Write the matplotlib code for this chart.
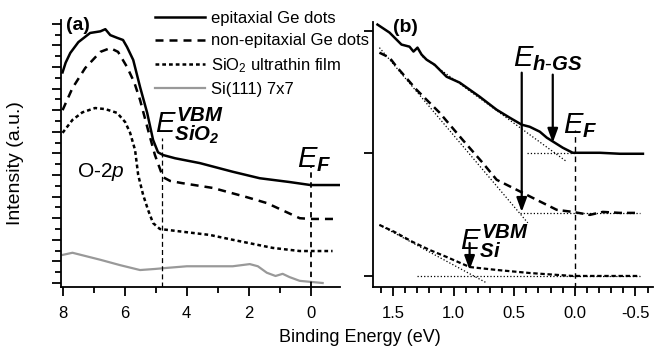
import matplotlib.pyplot as plt
from matplotlib.ticker import MultipleLocator, NullFormatter

plt.rcParams['font.family'] = 'Liberation Sans'
plt.rcParams['mathtext.fontset'] = 'custom'
plt.rcParams['mathtext.rm'] = 'Liberation Sans'
plt.rcParams['mathtext.it'] = 'Liberation Sans:italic'
plt.rcParams['mathtext.bf'] = 'Liberation Sans:bold'
plt.rcParams['mathtext.bfit'] = 'Liberation Sans:italic:bold'

# ---- panel (a): wide valence band spectra ----
epi_a_ev = [8.0, 7.9, 7.75, 7.49, 7.11, 6.78, 6.62, 6.46, 6.24, 6.05, 5.92, 5.72, 5.50, 5.27,
            5.08, 4.92, 4.76, 4.37, 3.57, 2.51, 1.64, 0.68, 0.0, -0.93]
epi_a_int = [19.5, 20.4, 21.3, 22.3, 23.15, 23.3, 23.5, 22.95, 22.7, 22.5, 21.85, 20.65, 18.15,
             15.75, 13.25, 12.1, 11.85, 11.55, 11.1, 10.3, 9.7, 9.35, 9.07, 9.07]

non_a_ev = [8.0, 7.68, 7.27, 6.78, 6.46, 6.21, 5.92, 5.69, 5.50, 5.24, 5.02, 4.76, 4.53,
            4.15, 3.15, 2.06, 1.41, 0.35, 0.0, -0.84]
non_a_int = [16.0, 18.05, 19.9, 21.4, 21.75, 21.4, 20.0, 18.6, 16.95, 14.15, 11.85, 9.8, 9.45,
             9.25, 8.8, 7.95, 7.4, 6.0, 5.93, 5.93]

sio2_a_ev = [8.0, 7.68, 7.36, 6.95, 6.62, 6.24, 5.98, 5.82, 5.66, 5.56, 5.40, 5.24, 5.08,
             4.86, 3.99, 3.25, 2.51, 1.22, 0.35, -0.71]
sio2_a_int = [13.9, 15.1, 15.8, 16.2, 16.1, 15.75, 14.9, 13.9, 12.3, 10.0, 8.15, 6.75, 5.55,
              5.0, 4.7, 4.45, 4.0, 3.25, 2.96, 2.96]

si_a_ev = [8.0, 7.68, 6.78, 6.14, 5.50, 5.02, 4.63, 3.99, 2.51, 1.96, 1.70, 1.41, 1.13,
           0.90, 0.68, 0.35, -0.39]
si_a_int = [2.6, 2.8, 2.15, 1.65, 1.2, 1.3, 1.4, 1.55, 1.55, 1.75, 1.55, 0.95, 0.65,
            0.85, 0.55, 0.2, 0.0]

vbm_sio2_ev = 4.8
vbm_sio2_top = 13.4
ef_a_top = 10.7

# ---- panel (b): near Fermi level ----
epi_b_ev = [1.628, 1.529, 1.430, 1.364, 1.331, 1.298, 1.264, 1.223, 1.157, 1.058, 0.950,
            0.785, 0.645, 0.537, 0.438, 0.372, 0.289, 0.231, 0.165, 0.099, 0.017, -0.207,
            -0.372, -0.562]
epi_b_int = [2.049, 1.984, 1.886, 1.869, 1.829, 1.861, 1.804, 1.763, 1.722, 1.624, 1.576,
             1.461, 1.355, 1.290, 1.233, 1.216, 1.176, 1.127, 1.086, 1.045, 1.004, 1.004,
             0.996, 0.996]

non_b_ev = [1.612, 1.529, 1.471, 1.306, 1.116, 0.926, 0.760, 0.645, 0.479, 0.314, 0.149,
            0.017, -0.124, -0.231, -0.372, -0.537]
non_b_int = [1.820, 1.780, 1.706, 1.518, 1.331, 1.110, 0.922, 0.784, 0.702, 0.620, 0.539,
             0.522, 0.498, 0.522, 0.514, 0.514]

si_b_ev = [1.612, 1.488, 1.339, 1.198, 1.058, 0.868, 0.645, 0.372, 0.017, -0.207, -0.537]
si_b_int = [0.416, 0.359, 0.278, 0.212, 0.155, 0.073, 0.049, 0.024, 0.0, 0.0, 0.0]

# linear extrapolations (edge fits) and baselines
fit_epi_ev, fit_epi_int = [1.256, 0.066], [1.788, 0.931]
base_epi_ev, base_epi_int = [0.397, 0.0], [1.0, 1.0]
fit_non_ev, fit_non_int = [1.612, 0.388], [1.861, 0.433]
base_non_ev, base_non_int = [0.455, -0.537], [0.514, 0.514]
fit_si_ev, fit_si_int = [1.612, 0.727], [0.416, -0.057]
base_si_ev, base_si_int = [1.298, -0.537], [0.0, 0.0]

hgs_ev, hgs_from, hgs_to = 0.438, 1.657, 0.522
hgs2_ev, hgs2_from, hgs2_to = 0.182, 1.641, 1.086
vbm_si_ev, vbm_si_from, vbm_si_to = 0.868, 0.269, 0.049
ef_b_top = 1.19

fig = plt.figure(figsize=(6.6, 3.51), dpi=100)
ax_a = fig.add_axes([61 / 660, 64 / 351, 279 / 660, 267 / 351])
ax_b = fig.add_axes([373 / 660, 64 / 351, 280 / 660, 265 / 351])

# panel (a)
l1, = ax_a.plot(epi_a_ev, epi_a_int, color='black', lw=1.8)
l2, = ax_a.plot(non_a_ev, non_a_int, color='black', lw=1.8, dashes=(3.2, 2.4))
l3, = ax_a.plot(sio2_a_ev, sio2_a_int, color='black', lw=1.8, dashes=(1.5, 1.2))
l4, = ax_a.plot(si_a_ev, si_a_int, color='#999999', lw=1.6)
ax_a.plot([vbm_sio2_ev, vbm_sio2_ev], [-0.4, vbm_sio2_top], color='black', lw=0.9, dashes=(4, 2.5))
ax_a.plot([0, 0], [-0.4, ef_a_top], color='black', lw=1.3, dashes=(3, 2.5))

ax_a.set_xlim(8.05, -0.95)
ax_a.set_ylim(-0.37, 24.35)
ax_a.xaxis.set_major_locator(MultipleLocator(2))
ax_a.xaxis.set_minor_locator(MultipleLocator(1))
ax_a.yaxis.set_major_locator(MultipleLocator(2))
ax_a.yaxis.set_minor_locator(MultipleLocator(1))
ax_a.yaxis.set_major_formatter(NullFormatter())

ax_a.text(7.9, 23.4, '(a)', fontsize=14, fontweight='bold')
ax_a.text(7.52, 9.8, r'O-2$\mathit{p}$', fontsize=15)
ax_a.text(5.02, 13.9, r'$E^{\mathbfit{VBM}}_{\mathbfit{SiO_2}}$', fontsize=21)
ax_a.text(0.45, 10.74, r'$E_{\mathbfit{F}}$', fontsize=21)

ax_a.legend([l1, l2, l3, l4],
            ['epitaxial Ge dots', 'non-epitaxial Ge dots', r'SiO$_2$ ultrathin film', 'Si(111) 7x7'],
            loc='upper left', bbox_to_anchor=(155 / 660, 1 - 11 / 351),
            bbox_transform=fig.transFigure, frameon=False, fontsize=12,
            handlelength=3.0, handletextpad=0.35, labelspacing=0.45, borderpad=0,
            borderaxespad=0)

# panel (b)
ax_b.plot(epi_b_ev, epi_b_int, color='black', lw=1.8)
ax_b.plot(non_b_ev, non_b_int, color='black', lw=1.8, dashes=(3.2, 2.0))
ax_b.plot(si_b_ev, si_b_int, color='black', lw=1.6, dashes=(2, 1.2))
for xs, ys in [(fit_epi_ev, fit_epi_int), (base_epi_ev, base_epi_int),
               (fit_non_ev, fit_non_int), (base_non_ev, base_non_int),
               (fit_si_ev, fit_si_int), (base_si_ev, base_si_int)]:
    ax_b.plot(xs, ys, color='black', lw=0.9, linestyle=':')
ax_b.plot([0, 0], [-0.1, ef_b_top], color='black', lw=1.0, dashes=(4, 3))

arrow = dict(arrowstyle='-|>,head_length=0.6,head_width=0.22', color='black', lw=1.6,
             mutation_scale=14, shrinkA=0, shrinkB=0)
ax_b.annotate('', xy=(hgs_ev, hgs_to), xytext=(hgs_ev, hgs_from), arrowprops=arrow)
ax_b.annotate('', xy=(hgs2_ev, hgs2_to), xytext=(hgs2_ev, hgs2_from), arrowprops=arrow)
ax_b.annotate('', xy=(vbm_si_ev, vbm_si_to), xytext=(vbm_si_ev, vbm_si_from), arrowprops=arrow)

ax_b.set_xlim(1.665, -0.645)
ax_b.set_ylim(-0.09, 2.07)
ax_b.xaxis.set_major_locator(MultipleLocator(0.5))
ax_b.xaxis.set_minor_locator(MultipleLocator(0.1))
ax_b.yaxis.set_major_locator(MultipleLocator(1))
ax_b.yaxis.set_major_formatter(NullFormatter())

ax_b.text(1.504, 1.99, '(b)', fontsize=14, fontweight='bold')
ax_b.text(0.512, 1.706, r'$E_{\mathbfit{h\text{-}GS}}$', fontsize=21)
ax_b.text(0.099, 1.167, r'$E_{\mathbfit{F}}$', fontsize=21)
ax_b.text(0.95, 0.212, r'$E^{\mathbfit{VBM}}_{\mathbfit{Si}}$', fontsize=21)

for ax in (ax_a, ax_b):
    ax.spines['top'].set_visible(False)
    ax.spines['right'].set_visible(False)
    ax.spines['left'].set_linewidth(1.3)
    ax.spines['bottom'].set_linewidth(1.3)
    ax.tick_params(axis='both', which='major', direction='out', length=6.5, width=1.3,
                   labelsize=12, pad=7)
    ax.tick_params(axis='both', which='minor', direction='out', length=4, width=1.3)
ax_b.xaxis.set_major_formatter(plt.FuncFormatter(lambda v, p: f'{v:.1f}'))

fig.text(360 / 660, 14 / 351, 'Binding Energy (eV)', fontsize=13, ha='center', va='center')
fig.text(16 / 660, 1 - 163 / 351, 'Intensity (a.u.)', fontsize=14, rotation=90,
         ha='center', va='center')

fig.savefig('out.png', dpi=100)
